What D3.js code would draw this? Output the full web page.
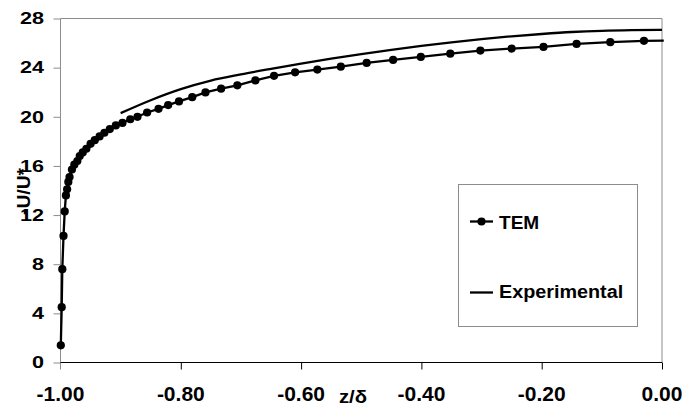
<!DOCTYPE html>
<html><head><meta charset="utf-8">
<script src="https://cdn.jsdelivr.net/npm/d3@7"></script>
<style>body{margin:0;background:#fff}svg{display:block}text{font-family:"Liberation Sans",Arial,sans-serif;font-weight:bold;fill:#000}</style>
</head><body><svg id="c" width="683" height="409"></svg>
<script>
const temX = [-0.9995,-0.998,-0.997,-0.995,-0.993,-0.991,-0.989,-0.987,-0.985,-0.981,-0.977,-0.972,-0.968,-0.963,-0.957,-0.950,-0.943,-0.935,-0.927,-0.918,-0.908,-0.897,-0.884,-0.872,-0.856,-0.837,-0.821,-0.803,-0.781,-0.759,-0.733,-0.706,-0.676,-0.645,-0.610,-0.573,-0.534,-0.491,-0.447,-0.401,-0.352,-0.302,-0.250,-0.197,-0.142,-0.086,-0.030];
const temU = [1.4,4.5,7.6,10.3,12.3,13.6,14.1,14.7,15.1,15.7,16.1,16.4,16.8,17.1,17.4,17.8,18.1,18.4,18.7,19.0,19.3,19.5,19.8,20.0,20.35,20.65,20.95,21.25,21.6,21.98,22.29,22.56,22.96,23.33,23.62,23.84,24.08,24.38,24.63,24.87,25.14,25.39,25.55,25.69,25.93,26.07,26.18];
const temEndX = 0.003, temEndU = 26.2;
const expX = [-0.90,-0.85,-0.80,-0.75,-0.70,-0.65,-0.60,-0.55,-0.50,-0.45,-0.40,-0.35,-0.30,-0.25,-0.20,-0.15,-0.10,-0.05,0.00];
const expU = [20.3,21.35,22.25,22.95,23.45,23.9,24.33,24.73,25.1,25.45,25.77,26.06,26.32,26.55,26.74,26.9,27.0,27.05,27.07];
const xTicks = [-1.0,-0.8,-0.6,-0.4,-0.2,0.0];
const xTickLabels = ["-1.00","-0.80","-0.60","-0.40","-0.20","0.00"];
const yTicks = [0,4,8,12,16,20,24,28];
const seriesNames = ["TEM","Experimental"];
const xTitle = "z/δ", yTitle = "-U/U*";

const svg = d3.select("#c");
const x = d3.scaleLinear().domain([-1,0]).range([60.5,662]);
const y = d3.scaleLinear().domain([0,28]).range([362.5,18.5]);
const gray = "#8c8c8c";

svg.append("path").attr("d",`M${x(-1)},${y(28)}H${x(0)}V${y(0)}`).attr("fill","none").attr("stroke",gray).attr("stroke-width",1);

const ya = svg.append("g").attr("transform",`translate(${x(-1)},0)`)
  .call(d3.axisLeft(y).tickValues(yTicks).tickSize(7).tickFormat(""));
ya.selectAll("path,line").attr("stroke",gray);
ya.select(".domain").attr("d",`M0,${y(28)}V${y(0)+7}`);
svg.append("g").selectAll("text").data(yTicks).join("text")
  .attr("transform",d=>`translate(44,${y(d)}) scale(1.35,1)`)
  .attr("text-anchor","end").attr("dy","0.36em").attr("font-size",16).text(d=>d);

const xa = svg.append("g").attr("transform",`translate(0,${y(0)})`)
  .call(d3.axisBottom(x).tickValues(xTicks.slice(1)).tickSize(7).tickFormat(""));
xa.selectAll("path,line").attr("stroke","#000");
xa.select(".domain").attr("d",`M${x(-1)},0H${x(0)}`);
svg.append("g").selectAll("text").data(xTicks).join("text")
  .attr("transform",d=>`translate(${x(d)},401) scale(1.05,1)`)
  .attr("text-anchor","middle").attr("font-size",20).text((d,i)=>xTickLabels[i]);

svg.append("text").attr("transform","translate(353,403) scale(1.1,1)").attr("text-anchor","middle").attr("font-size",18.5).text(xTitle);
svg.append("text").attr("transform","translate(29.5,191.5) rotate(-90) scale(1.1,1)").attr("text-anchor","middle").attr("font-size",17.5).text(yTitle);

const expData = expX.map((v,i)=>[v,expU[i]]);
svg.append("path").datum(expData).attr("fill","none").attr("stroke","#000").attr("stroke-width",2.3)
  .attr("d",d3.line().x(d=>x(d[0])).y(d=>y(d[1])).curve(d3.curveMonotoneX));

const temData = temX.map((v,i)=>[v,temU[i]]);
svg.append("path").datum(temData.concat([[temEndX,temEndU]])).attr("fill","none").attr("stroke","#000").attr("stroke-width",2.3)
  .attr("d",d3.line().x(d=>x(d[0])).y(d=>y(d[1])));
svg.append("g").selectAll("circle").data(temData).join("circle")
  .attr("cx",d=>x(d[0])).attr("cy",d=>y(d[1])).attr("r",4.1).attr("fill","#000");

svg.append("rect").attr("x",458.5).attr("y",184.5).attr("width",179).attr("height",142)
  .attr("fill","#fff").attr("stroke",gray).attr("stroke-width",1);
const lg = svg.append("g");
lg.append("line").attr("x1",470).attr("x2",493).attr("y1",221.5).attr("y2",221.5).attr("stroke","#000").attr("stroke-width",2.3);
lg.append("circle").attr("cx",481.5).attr("cy",221.5).attr("r",4.1).attr("fill","#000");
lg.append("line").attr("x1",470).attr("x2",493).attr("y1",292.5).attr("y2",292.5).attr("stroke","#000").attr("stroke-width",2.3);
lg.append("text").attr("transform","translate(499,228.5) scale(1.03,1)").attr("font-size",18.5).text(seriesNames[0]);
lg.append("text").attr("transform","translate(499,298) scale(1.07,1)").attr("font-size",18.5).text(seriesNames[1]);
</script></body></html>
